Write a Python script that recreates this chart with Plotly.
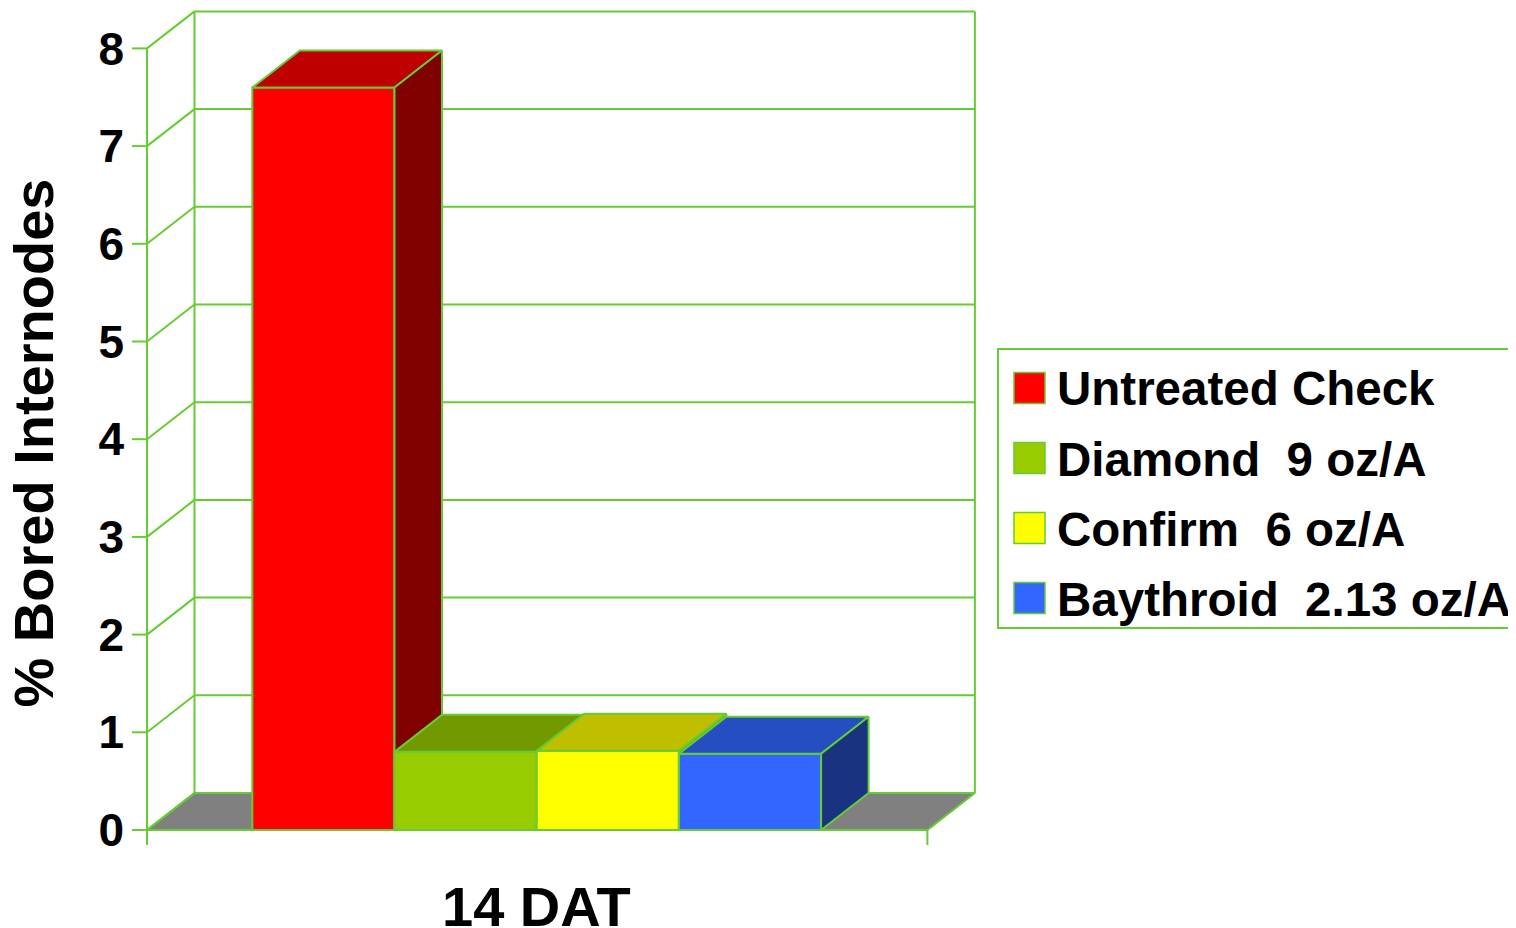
import plotly.graph_objects as go

# ---------------- data ----------------
series_names = ["Untreated Check", "Diamond  9 oz/A", "Confirm  6 oz/A", "Baythroid  2.13 oz/A"]
values = [7.6, 0.8, 0.81, 0.78]
y_ticks = [0, 1, 2, 3, 4, 5, 6, 7, 8]
category_label = "14 DAT"
y_title = "% Bored Internodes"

# ---------------- styles ----------------
front_colors = ["#FF0000", "#99CC00", "#FFFF00", "#3366FF"]
top_colors = ["#BF0000", "#739900", "#BFBF00", "#254FC0"]
side_colors = ["#800000", "#4D6600", "#808000", "#1A3380"]
GREEN = "#66CC33"
FLOOR = "#808080"
FONT = "Liberation Sans, Arial, sans-serif"

PAGE_W, PAGE_H = 1516, 928
OFF = 8  # default page body margin; figure origin sits at (8, 8) on the page
W, H = PAGE_W - OFF, PAGE_H - OFF

# plot-area pixel geometry (page coordinates)
PL, PR, PT, PB = 127, 978, 8, 850
SX = 142.2      # px per bar width
SY = 97.7       # px per y unit
Y0PX = 830      # pixel row of y = 0
XL_PX = 147     # front-left corner of floor

DX = 47.5 / SX  # depth offset (x units)
DY = 37.0 / SY  # depth offset (y units)
TICK = 15.0     # tick length px

n = len(values)
xl = -0.5 - 105.3 / SX                 # front left edge of floor
xr_front = n - 0.5 + 106.3 / SX        # front right edge of floor
xr_back = xr_front + DX
x_range = [xl - (XL_PX - PL) / SX, xl + (PR - XL_PX) / SX]
y_range = [-(PB - Y0PX) / SY, (Y0PX - PT) / SY]
ymax = max(y_ticks)


def px2paper_x(px):
    return (px - PL) / (PR - PL)


def px2paper_y(py):
    return (PB - py) / (PB - PT)


fig = go.Figure()


def poly(xs, ys, fill, lw=2):
    fig.add_trace(go.Scatter(
        x=list(xs) + [xs[0]], y=list(ys) + [ys[0]], mode="lines",
        fill="toself", fillcolor=fill,
        line=dict(color=GREEN, width=lw),
        hoverinfo="skip", showlegend=False))


def lines(xs, ys, lw=2):
    fig.add_trace(go.Scatter(
        x=xs, y=ys, mode="lines", line=dict(color=GREEN, width=lw),
        hoverinfo="skip", showlegend=False))


# floor
poly([xl, xr_front, xr_back, xl + DX], [0, 0, DY, DY], FLOOR)

# walls and gridlines
gx, gy = [], []
for v in y_ticks:
    if v > 0:
        gx += [xl + DX, xr_back, None]
        gy += [v + DY, v + DY, None]
    gx += [xl, xl + DX, None]
    gy += [v, v + DY, None]
    gx += [xl - TICK / SX, xl, None]
    gy += [v, v, None]
# back wall verticals
gx += [xl + DX, xl + DX, None, xr_back, xr_back, None]
gy += [DY, ymax + DY, None, DY, ymax + DY, None]
# front axis line and bottom ticks
gx += [xl, xl, None, xr_front, xr_front, None]
gy += [-TICK / SY, ymax, None, -TICK / SY, 0, None]
lines(gx, gy)

# 3-D bars, drawn left to right
for i, v in enumerate(values):
    x0, x1 = i - 0.5, i + 0.5
    poly([x0, x1, x1, x0], [0, 0, v, v], front_colors[i])
    poly([x0, x1, x1 + DX, x0 + DX], [v, v, v + DY, v + DY], top_colors[i])
    poly([x1, x1 + DX, x1 + DX, x1], [0, DY, v + DY, v], side_colors[i])

annotations = []
shapes = []

# axis title
annotations.append(dict(
    text=y_title, textangle=-90, xref="paper", yref="paper",
    x=px2paper_x(33), y=px2paper_y(443.5), xanchor="center", yanchor="middle",
    showarrow=False, font=dict(family=FONT, size=56, color="black", weight="bold")))

# category label
annotations.append(dict(
    text=category_label, xref="x", yref="paper",
    x=(n - 1) / 2, y=px2paper_y(906.5), xanchor="center", yanchor="middle",
    showarrow=False, font=dict(family=FONT, size=56, color="black", weight="bold")))

# legend (manual, for large swatches)
shapes.append(dict(type="rect", xref="paper", yref="paper",
                   x0=px2paper_x(998), x1=px2paper_x(1530),
                   y0=px2paper_y(628), y1=px2paper_y(349),
                   line=dict(color=GREEN, width=2), fillcolor="white", layer="above"))
for i, name in enumerate(series_names):
    cy = 388 + 70 * i
    shapes.append(dict(type="rect", xref="paper", yref="paper",
                       x0=px2paper_x(1014), x1=px2paper_x(1045),
                       y0=px2paper_y(cy + 15.5), y1=px2paper_y(cy - 15.5),
                       line=dict(color=GREEN, width=1.5), fillcolor=front_colors[i],
                       layer="above"))
    annotations.append(dict(
        text=name.replace("  ", "\u00a0\u00a0"), xref="paper", yref="paper",
        x=px2paper_x(1055), y=px2paper_y(cy + 1), xanchor="left", yanchor="middle",
        showarrow=False, font=dict(family=FONT, size=47.5, color="black", weight="bold")))

fig.update_layout(
    width=W, height=H,
    margin=dict(l=PL - OFF, r=PAGE_W - PR, t=PT - OFF, b=PAGE_H - PB,
                pad=0, autoexpand=False),
    paper_bgcolor="white", plot_bgcolor="white",
    showlegend=False, hovermode=False,
    xaxis=dict(range=x_range, visible=False, fixedrange=True),
    yaxis=dict(range=y_range, tickvals=y_ticks, ticktext=[str(t) for t in y_ticks],
               ticks="", showgrid=False, zeroline=False, showline=False,
               automargin=False, fixedrange=True, ticklabelstandoff=2,
               tickfont=dict(family=FONT, size=46, color="black", weight="bold")),
    annotations=annotations, shapes=shapes,
)

fig.write_html("out.html", config={"displayModeBar": False})
